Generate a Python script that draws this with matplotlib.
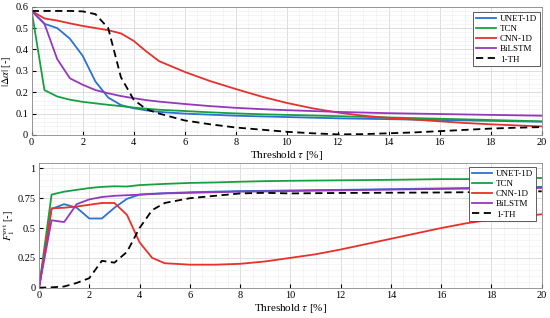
import numpy as np
import matplotlib
matplotlib.use('Agg')
import matplotlib.pyplot as plt
from matplotlib.ticker import AutoMinorLocator

plt.rcParams['font.family'] = ['Liberation Serif', 'DejaVu Serif']
plt.rcParams['mathtext.fontset'] = 'stix'

# seuils (%)
tau = [0, 0.5, 1, 1.5, 2, 2.5, 3, 3.5, 4, 4.5, 5, 6, 7, 8, 9, 10,
       11, 12, 13, 14, 15, 16, 17, 18, 19, 20]

labels = ['UNET-1D', 'TCN', 'CNN-1D', 'BiLSTM', '1-TH']

# |delta alpha|
da_unet = [0.58, 0.52, 0.50, 0.45, 0.37, 0.25, 0.175, 0.14, 0.125, 0.115, 0.108, 0.100, 0.095,
           0.090, 0.087, 0.084, 0.081, 0.078, 0.076, 0.074, 0.072, 0.070, 0.068, 0.066, 0.064, 0.062]
da_tcn = [0.58, 0.21, 0.18, 0.165, 0.155, 0.148, 0.141, 0.135, 0.128, 0.123, 0.118, 0.112, 0.106,
          0.101, 0.097, 0.094, 0.091, 0.088, 0.085, 0.082, 0.079, 0.076, 0.073, 0.070, 0.067, 0.064]
da_cnn = [0.58, 0.545, 0.535, 0.522, 0.51, 0.50, 0.49, 0.475, 0.44, 0.39, 0.345, 0.295, 0.252,
          0.215, 0.18, 0.15, 0.125, 0.105, 0.09, 0.08, 0.072, 0.064, 0.056, 0.05, 0.045, 0.04]
da_lstm = [0.58, 0.52, 0.355, 0.265, 0.235, 0.21, 0.195, 0.182, 0.172, 0.163, 0.156, 0.145, 0.135,
           0.127, 0.121, 0.116, 0.112, 0.108, 0.105, 0.102, 0.10, 0.098, 0.096, 0.094, 0.092, 0.09]
da_th = [0.58, 0.58, 0.58, 0.58, 0.578, 0.565, 0.50, 0.27, 0.165, 0.12, 0.10, 0.068, 0.05,
         0.035, 0.025, 0.015, 0.008, 0.003, 0.004, 0.008, 0.012, 0.018, 0.024, 0.03, 0.034, 0.037]

# F1 evenementiel
f1_unet = [0, 0.66, 0.70, 0.67, 0.58, 0.58, 0.67, 0.745, 0.78, 0.787, 0.792, 0.80, 0.805,
           0.81, 0.812, 0.815, 0.818, 0.82, 0.823, 0.826, 0.829, 0.832, 0.835, 0.838, 0.841, 0.845]
f1_tcn = [0, 0.78, 0.805, 0.82, 0.835, 0.845, 0.85, 0.848, 0.86, 0.865, 0.87, 0.878, 0.882,
          0.888, 0.893, 0.896, 0.898, 0.90, 0.902, 0.904, 0.907, 0.91, 0.91, 0.912, 0.915, 0.92]
f1_cnn = [0, 0.665, 0.67, 0.68, 0.695, 0.71, 0.71, 0.61, 0.38, 0.25, 0.205, 0.193, 0.193,
          0.20, 0.22, 0.25, 0.28, 0.32, 0.365, 0.41, 0.455, 0.50, 0.54, 0.57, 0.595, 0.615]
f1_lstm = [0, 0.565, 0.55, 0.70, 0.74, 0.76, 0.77, 0.775, 0.78, 0.785, 0.79, 0.795, 0.80,
           0.805, 0.807, 0.81, 0.813, 0.816, 0.819, 0.822, 0.825, 0.828, 0.83, 0.832, 0.834, 0.836]
f1_th = [0, 0.003, 0.01, 0.04, 0.08, 0.225, 0.21, 0.30, 0.50, 0.65, 0.71, 0.75, 0.77,
         0.79, 0.795, 0.79, 0.792, 0.794, 0.795, 0.796, 0.797, 0.798, 0.80, 0.802, 0.805, 0.808]

colors = ['#2a72d4', '#17a040', '#e8302c', '#9538bb', 'black']
styles = ['-', '-', '-', '-', (0, (4, 2.5))]


def style_axes(ax, ymax, yticks, yticklabels, ylabel, label_x):
    ax.set_xlim(0, 20)
    ax.set_ylim(0, ymax)
    ax.set_xticks(np.arange(0, 21, 2))
    ax.set_yticks(yticks)
    ax.set_yticklabels(yticklabels)
    ax.xaxis.set_minor_locator(AutoMinorLocator(4))
    ax.yaxis.set_minor_locator(AutoMinorLocator(5))
    ax.grid(which='major', color='#d8d8d8', lw=0.6)
    ax.grid(which='minor', color='#eeeeee', lw=0.4)
    ax.set_axisbelow(True)
    ax.tick_params(which='both', direction='in', labelsize=7.5, top=False, right=False)
    ax.tick_params(which='minor', length=0)
    ax.tick_params(which='major', length=3, pad=2.5)
    for s in ax.spines.values():
        s.set_color('#888888')
        s.set_linewidth(0.6)
    ax.set_xlabel(r'Threshold $\tau$ [%]', fontsize=8, labelpad=1)
    ax.set_ylabel(ylabel, fontsize=7.5)
    ax.yaxis.set_label_coords(label_x, 0.5)


fig = plt.figure(figsize=(5.5, 3.18), dpi=100)
ax1 = fig.add_axes([0.0576, 0.5755, 0.9274, 0.4035])
ax2 = fig.add_axes([0.0709, 0.0953, 0.9141, 0.3921])

for ys, c, ls, lab in zip([da_unet, da_tcn, da_cnn, da_lstm, da_th], colors, styles, labels):
    ax1.plot(tau, ys, color=c, ls=ls, lw=1.3, label=lab)
for ys, c, ls, lab in zip([f1_unet, f1_tcn, f1_cnn, f1_lstm, f1_th], colors, styles, labels):
    ax2.plot(tau, ys, color=c, ls=ls, lw=1.3, label=lab)

style_axes(ax1, 0.6, np.arange(0, 0.61, 0.1), ['0', '0.1', '0.2', '0.3', '0.4', '0.5', '0.6'],
           r'$|\Delta\alpha|$ [-]', -0.037)
style_axes(ax2, 1.045, [0, 0.25, 0.5, 0.75, 1], ['0', '0.25', '0.5', '0.75', '1'],
           r'$F_1^{\mathrm{evt}}$ [-]', -0.043)

for ax, anchor in ((ax1, (0.9967, 0.9587)), (ax2, (0.9887, 0.968))):
    leg = ax.legend(loc='upper right', bbox_to_anchor=anchor, fontsize=6.5, frameon=True,
                    fancybox=False, borderaxespad=0, handlelength=2.3, labelspacing=0.2,
                    borderpad=0.3, handletextpad=0.4)
    leg.get_frame().set_edgecolor('#444444')
    leg.get_frame().set_linewidth(0.6)
    leg.get_frame().set_alpha(1)

plt.savefig('out.png', dpi=100)
